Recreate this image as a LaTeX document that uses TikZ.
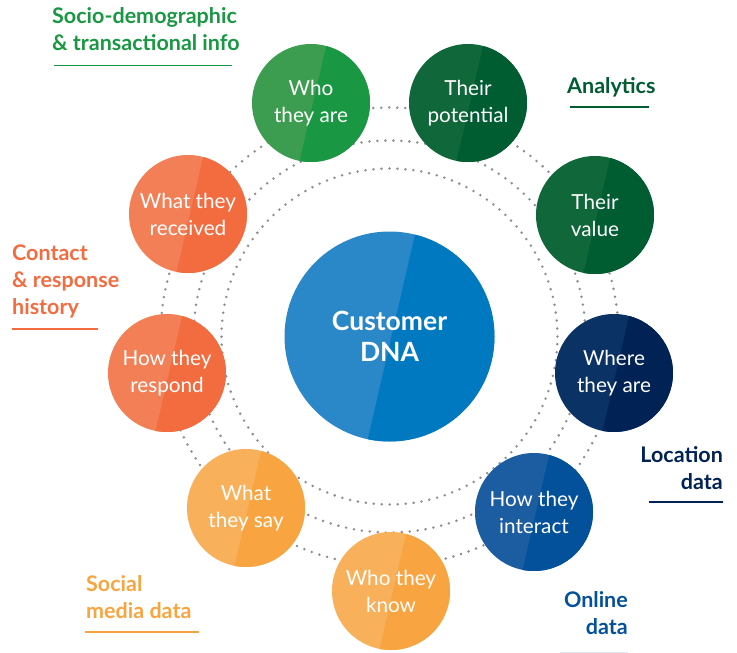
\documentclass[tikz,border=0pt]{standalone}
\usepackage{fontspec}
\setmainfont{Lato}
\usepackage{tikz}
\tikzset{>=latex}
\definecolor{dnaLight}{HTML}{2A87C8}
\definecolor{dnaDark}{HTML}{0079C1}
\definecolor{grnLight}{HTML}{3C9D50}
\definecolor{grnDark}{HTML}{1A9742}
\definecolor{forLight}{HTML}{10683A}
\definecolor{forDark}{HTML}{005C31}
\definecolor{navLight}{HTML}{0B3264}
\definecolor{navDark}{HTML}{002254}
\definecolor{bluLight}{HTML}{1C5CA0}
\definecolor{bluDark}{HTML}{03519B}
\definecolor{ylwLight}{HTML}{F8B05A}
\definecolor{ylwDark}{HTML}{F8A541}
\definecolor{orgLight}{HTML}{F27F55}
\definecolor{orgDark}{HTML}{F26C40}
\definecolor{dotgray}{HTML}{8E8E8E}
\tikzset{bubble/.style 2 args={circle, inner sep=0pt, minimum size=118pt,
  fill=#1, text=white, align=center, font=\fontsize{20.7}{27}\selectfont,
  path picture={\fill[#2] ([shift={(77:140pt)},xshift=2pt]path picture bounding box.center)
    -- ([shift={(-103:140pt)},xshift=2pt]path picture bounding box.center)
    -- ++(-13:280pt) -- ++(77:280pt) -- cycle;}}}
\tikzset{ring/.style={dotgray, line width=2.8pt, line cap=round, dash pattern=on 0pt off 8pt}}
\tikzset{tag/.style={inner sep=0pt, align=left, font=\bfseries\fontsize{21.5}{26.8}\selectfont}}
\tikzset{uline/.style={line width=1.2pt}}

\begin{document}
\begin{tikzpicture}[x=1pt, y=-1pt]
    \useasboundingbox (0,0) rectangle (737,653);
    \coordinate (c) at (389.5,336.5);
    % dotted rings
    \draw[ring] (c) circle[radius=168pt];
    \draw[ring] (c) circle[radius=196pt];
    \draw[ring] (c) circle[radius=229pt];
    % centre
    \node[bubble={dnaLight}{dnaDark}, minimum size=210pt, font=\bfseries\fontsize{26.5}{31}\selectfont] (dna) at (c) {Customer\\DNA};
    % outer bubbles
    \node[bubble={grnLight}{grnDark}] (who) at (311,103) {Who\\they are};
    \node[bubble={forLight}{forDark}] (potential) at (468,103) {Their\\potential};
    \node[bubble={forLight}{forDark}] (value) at (595,215) {Their\\value};
    \node[bubble={navLight}{navDark}] (where) at (614,373) {Where\\they are};
    \node[bubble={bluLight}{bluDark}] (interact) at (534,512) {How they\\interact};
    \node[bubble={ylwLight}{ylwDark}] (know) at (391,591) {Who they\\know};
    \node[bubble={ylwLight}{ylwDark}] (say) at (246,508) {What\\they say};
    \node[bubble={orgLight}{orgDark}] (respond) at (167,373) {How they\\respond};
    \node[bubble={orgLight}{orgDark}] (received) at (188,214) {What they\\received};
    % labels
    \node[tag, text=grnDark, anchor=north west] (socio) at (52,7.5) {Socio-demographic\\\& transactional info};
    \draw[uline, grnDark] (54,65.5) -- (232,65.5);
    \node[tag, text=forDark, anchor=north west] (analytics) at (567,77.5) {Analytics};
    \draw[uline, forDark] (570,107) -- (649,107);
    \node[tag, text=orgDark, anchor=north west] (contact) at (12,244.5) {Contact\\\& response\\history};
    \draw[uline, orgDark] (12,329) -- (98,329);
    \node[tag, text=navDark, anchor=north east, align=right] (location) at (723,446.5) {Location\\data};
    \draw[uline, navDark] (649,502) -- (723,502);
    \node[tag, text=ylwDark, anchor=north west] (social) at (86,575.5) {Social\\media data};
    \draw[uline, ylwDark] (85,632) -- (199,632);
    \node[tag, text=bluDark, anchor=north east, align=right] (online) at (628,591.5) {Online\\data};
    \draw[uline, bluDark!12] (560,652.5) -- (628,652.5);
\end{tikzpicture}
\end{document}
